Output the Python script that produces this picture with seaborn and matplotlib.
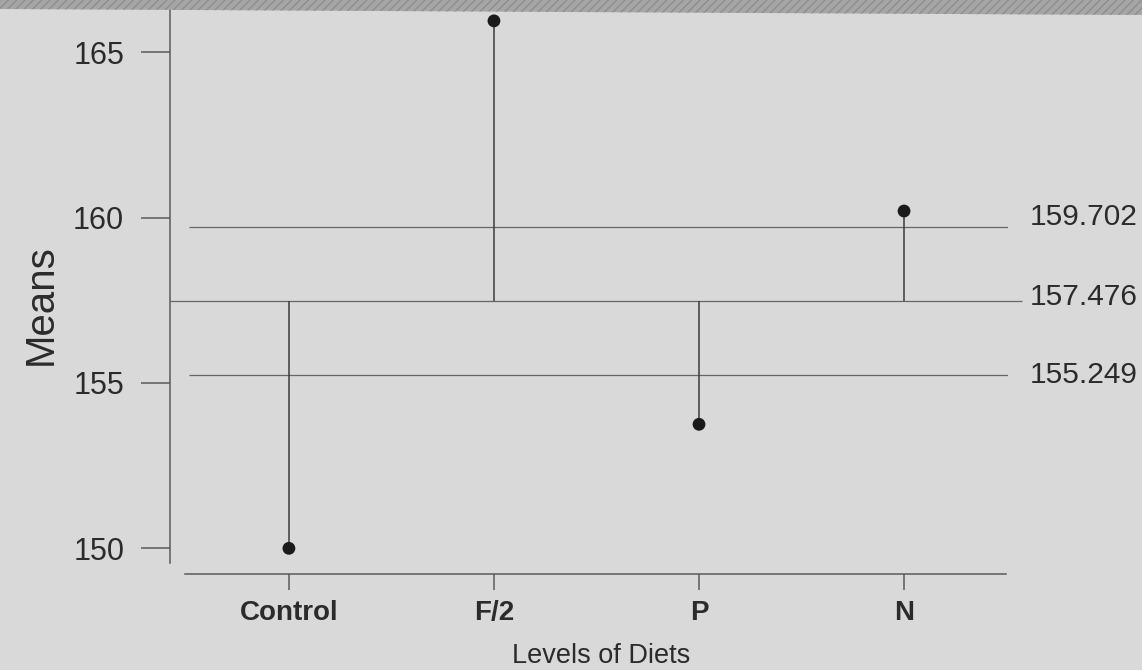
import matplotlib
matplotlib.use("Agg")
import matplotlib.pyplot as plt
import matplotlib.transforms as mtransforms
from matplotlib.patches import Polygon
import pandas as pd
import seaborn as sns

# Group means for the analysis-of-means chart
diets = ["Control", "F/2", "P", "N"]
means = [150.0, 165.95, 153.75, 160.2]

# Decision limits and grand mean
upper_limit = 159.702
center_line = 157.476
lower_limit = 155.249

y_ticks = [150, 155, 160, 165]

BG = "#d9d9d9"
INK = "#2b2b2b"
LINE = "#5a5a5a"

sns.set_theme(style="ticks")
plain = ["Liberation Sans", "Arial", "DejaVu Sans"]
plt.rcParams["font.family"] = plain

W, H = 1142, 670
fig = plt.figure(figsize=(W / 100, H / 100), dpi=100, facecolor=BG)
ax = fig.add_axes([170 / W, 1 - 563 / H, (1008 - 170) / W, (563 - 5) / H])
ax.set_facecolor(BG)

df = pd.DataFrame({"diet": diets, "mean": means})

# stems from the grand mean to each group mean
ax.vlines(diets, center_line, means, color="#3c3c3c", linewidth=1.1, zorder=3)

# reference lines
ax.hlines([upper_limit, lower_limit], -0.488, 3.507, color="#666666",
          linewidth=0.9, zorder=2)
ax.hlines(center_line, -0.58, 3.576, color="#666666", linewidth=0.9,
          zorder=2, clip_on=False)

sns.scatterplot(data=df, x="diet", y="mean", ax=ax, s=85, color="#1a1a1a",
                edgecolor="none", zorder=4, legend=False, clip_on=False)

ax.set_xlim(-0.58, 3.507)
ax.set_ylim(149.556, 166.43)
ax.set_yticks(y_ticks)
ax.set_xlabel("")
ax.set_ylabel("")

for side in ("top", "right"):
    ax.spines[side].set_visible(False)
for side in ("left", "bottom"):
    ax.spines[side].set_color(LINE)
    ax.spines[side].set_linewidth(1.1)
ax.spines["bottom"].set_position(("outward", 7.9))
ax.spines["bottom"].set_bounds(-0.507, 3.498)

ax.tick_params(axis="y", direction="out", length=21, width=1.1, pad=12,
               color=LINE, labelcolor=INK, labelsize=22)
ax.tick_params(axis="x", direction="out", length=11.5, width=1.1, pad=7,
               color=LINE, labelcolor=INK, labelsize=20)
for lab in ax.get_xticklabels():
    lab.set_fontweight("bold")

# limit labels on the right
blend = mtransforms.blended_transform_factory(ax.transAxes, ax.transData)
for value, offset in ((upper_limit, 7.5), (center_line, 3.0), (lower_limit, -0.5)):
    ax.annotate(f"{value:.3f}", xy=(1.0262, value), xycoords=blend,
                xytext=(0, offset), textcoords="offset points",
                ha="left", va="center", fontsize=21.5, color=INK,
                annotation_clip=False)

fig.text(52 / W, 1 - 305 / H, "Means", rotation=90, rotation_mode="anchor",
         ha="center", va="baseline", fontsize=29, color=INK)
fig.text(601 / W, 1 - 663 / H, "Levels of Diets", ha="center", va="baseline",
         fontsize=19.5, color=INK)

# shaded strip along the top edge
band = Polygon([(0, 1), (1, 1), (1, 1 - 15 / H), (0, 1 - 9 / H)], closed=True,
               transform=fig.transFigure, facecolor="#a6a6a6",
               edgecolor="#8e8e8e", hatch="////", linewidth=0, zorder=5)
fig.patches.append(band)

fig.savefig("out.png", dpi=100, facecolor=BG)
